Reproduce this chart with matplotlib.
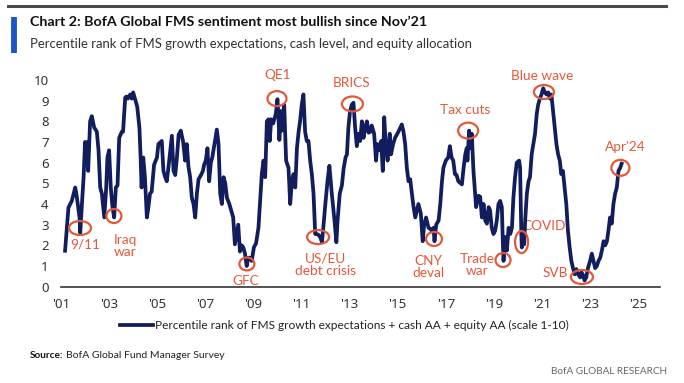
import matplotlib
matplotlib.use("Agg")
import matplotlib.pyplot as plt
from matplotlib.patches import Ellipse
from matplotlib.lines import Line2D

NARROW = "Lato"
REG = "Noto Sans"

# ---------------- data (fractional year, score 0-10) ----------------
years = [
    2001.17, 2001.31, 2001.45, 2001.59, 2001.64, 2001.77, 2001.80, 2001.87, 2001.94, 2002.00,
    2002.03, 2002.10, 2002.13, 2002.21, 2002.28, 2002.38, 2002.49, 2002.56, 2002.63, 2002.70,
    2002.80, 2002.88, 2002.93, 2003.00, 2003.07, 2003.14, 2003.21, 2003.28, 2003.35, 2003.42,
    2003.53, 2003.58, 2003.67, 2003.72, 2003.78, 2003.88, 2003.94, 2004.00, 2004.10, 2004.17,
    2004.26, 2004.31, 2004.35, 2004.42, 2004.49, 2004.57, 2004.63, 2004.70, 2004.77, 2004.87,
    2004.99, 2005.05, 2005.19, 2005.26, 2005.33, 2005.40, 2005.49, 2005.61, 2005.68, 2005.75,
    2005.82, 2005.89, 2005.98, 2006.08, 2006.16, 2006.23, 2006.30, 2006.37, 2006.44, 2006.51,
    2006.58, 2006.65, 2006.72, 2006.82, 2006.90, 2006.95, 2007.02, 2007.09, 2007.16, 2007.23,
    2007.29, 2007.38, 2007.48, 2007.55, 2007.62, 2007.69, 2007.76, 2007.83, 2007.90, 2008.00,
    2008.16, 2008.23, 2008.37, 2008.44, 2008.51, 2008.58, 2008.65, 2008.72, 2008.79, 2008.85,
    2008.93, 2009.02, 2009.11, 2009.21, 2009.35, 2009.42, 2009.49, 2009.56, 2009.63, 2009.68,
    2009.74, 2009.82, 2009.87, 2009.93, 2010.00, 2010.04, 2010.08, 2010.14, 2010.18, 2010.28,
    2010.36, 2010.46, 2010.53, 2010.60, 2010.67, 2010.74, 2010.81, 2010.88, 2010.94, 2011.01,
    2011.08, 2011.15, 2011.22, 2011.29, 2011.36, 2011.43, 2011.50, 2011.57, 2011.64, 2011.71,
    2011.78, 2011.85, 2011.91, 2011.98, 2012.08, 2012.16, 2012.26, 2012.36, 2012.45, 2012.50,
    2012.59, 2012.68, 2012.75, 2012.83, 2012.89, 2012.95, 2013.02, 2013.09, 2013.16, 2013.23,
    2013.30, 2013.37, 2013.44, 2013.51, 2013.58, 2013.65, 2013.72, 2013.79, 2013.86, 2013.92,
    2014.02, 2014.10, 2014.16, 2014.23, 2014.31, 2014.38, 2014.44, 2014.51, 2014.58, 2014.67,
    2014.72, 2014.81, 2014.89, 2015.03, 2015.17, 2015.24, 2015.31, 2015.38, 2015.45, 2015.52,
    2015.59, 2015.66, 2015.73, 2015.86, 2015.96, 2016.04, 2016.10, 2016.18, 2016.28, 2016.35,
    2016.42, 2016.49, 2016.53, 2016.60, 2016.70, 2016.77, 2016.84, 2016.90, 2017.00, 2017.10,
    2017.17, 2017.24, 2017.31, 2017.38, 2017.45, 2017.52, 2017.67, 2017.74, 2017.81, 2017.87,
    2017.90, 2017.97, 2018.03, 2018.08, 2018.15, 2018.22, 2018.26, 2018.36, 2018.43, 2018.50,
    2018.57, 2018.64, 2018.71, 2018.78, 2018.84, 2018.91, 2018.98, 2019.05, 2019.12, 2019.19,
    2019.26, 2019.33, 2019.37, 2019.40, 2019.47, 2019.54, 2019.61, 2019.68, 2019.75, 2019.81,
    2019.88, 2019.95, 2020.05, 2020.09, 2020.14, 2020.16, 2020.20, 2020.26, 2020.30, 2020.37,
    2020.44, 2020.50, 2020.57, 2020.64, 2020.71, 2020.78, 2020.84, 2020.91, 2020.98, 2021.05,
    2021.12, 2021.19, 2021.26, 2021.33, 2021.39, 2021.46, 2021.53, 2021.60, 2021.67, 2021.74,
    2021.80, 2021.87, 2021.94, 2022.01, 2022.08, 2022.15, 2022.22, 2022.29, 2022.36, 2022.43,
    2022.50, 2022.59, 2022.64, 2022.71, 2022.77, 2022.84, 2022.91, 2023.00, 2023.07, 2023.14,
    2023.21, 2023.28, 2023.35, 2023.42, 2023.49, 2023.56, 2023.63, 2023.70, 2023.76, 2023.83,
    2023.90, 2023.97, 2024.04, 2024.11, 2024.18, 2024.25, 2024.31,
]
scores = [
    1.74, 3.83, 4.15, 4.80, 4.50, 3.35, 2.60, 4.00, 5.30, 7.00,
    6.00, 7.00, 5.60, 8.00, 8.25, 7.70, 7.50, 6.60, 4.80, 4.50,
    3.35, 4.80, 6.25, 6.60, 4.80, 3.85, 3.35, 4.80, 4.90, 7.20,
    7.50, 7.50, 9.15, 9.20, 9.10, 9.30, 9.10, 9.40, 9.00, 8.70,
    7.70, 6.25, 4.80, 6.25, 5.30, 3.35, 3.80, 4.50, 4.60, 5.90,
    6.25, 6.90, 7.05, 5.60, 5.30, 5.10, 6.00, 7.30, 5.60, 5.40,
    6.25, 7.35, 7.55, 7.00, 6.10, 6.90, 5.80, 5.30, 4.30, 4.00,
    3.35, 4.50, 5.20, 5.40, 5.60, 5.90, 6.10, 6.70, 5.10, 6.00,
    6.25, 6.90, 7.60, 6.90, 4.50, 4.00, 5.30, 5.00, 4.30, 4.00,
    3.35, 2.05, 3.00, 1.70, 2.00, 1.90, 1.60, 1.00, 1.40, 1.40,
    1.25, 1.90, 2.10, 2.85, 5.45, 6.10, 5.30, 8.00, 8.10, 7.05,
    8.10, 7.90, 8.10, 8.35, 9.07, 8.25, 7.10, 8.50, 7.55, 8.80,
    6.10, 5.75, 4.00, 5.10, 5.45, 4.80, 6.70, 7.50, 8.00, 8.80,
    9.30, 7.50, 7.05, 7.05, 6.10, 5.45, 4.50, 2.55, 2.55, 2.50,
    2.40, 2.15, 2.90, 3.85, 5.10, 5.85, 4.50, 3.35, 2.15, 3.20,
    4.50, 4.90, 5.70, 6.25, 6.40, 7.70, 8.50, 8.80, 8.90, 7.70,
    6.80, 7.40, 7.05, 8.00, 7.20, 7.70, 8.00, 7.45, 7.50, 7.80,
    7.40, 6.10, 6.90, 6.60, 7.05, 5.60, 8.20, 6.70, 6.10, 7.40,
    6.40, 6.90, 7.20, 7.50, 7.85, 7.50, 6.90, 5.75, 5.10, 5.20,
    4.50, 3.85, 3.35, 4.00, 3.55, 2.20, 3.00, 3.35, 2.85, 2.80,
    2.70, 2.85, 2.20, 3.00, 3.20, 4.00, 5.10, 5.75, 6.10, 6.25,
    6.80, 6.25, 6.10, 5.45, 5.40, 5.10, 4.95, 5.75, 6.40, 6.70,
    6.10, 7.55, 6.70, 7.40, 5.60, 4.50, 3.85, 4.40, 4.35, 3.35,
    4.00, 3.20, 3.05, 3.85, 3.70, 2.85, 2.55, 2.70, 3.20, 4.00,
    4.15, 3.85, 2.20, 1.25, 2.40, 1.75, 2.85, 2.55, 2.85, 4.30,
    5.30, 6.00, 6.10, 5.75, 2.55, 1.90, 2.20, 2.05, 3.20, 4.50,
    5.10, 5.30, 6.40, 6.90, 7.40, 8.35, 8.80, 9.10, 9.30, 9.60,
    9.40, 9.30, 9.40, 9.10, 9.30, 8.50, 7.70, 6.90, 6.40, 6.10,
    5.45, 5.60, 4.80, 4.00, 2.70, 1.90, 1.25, 0.90, 0.60, 0.85,
    0.60, 0.45, 0.70, 0.55, 0.30, 0.45, 0.90, 1.25, 1.60, 1.25,
    0.90, 1.00, 1.25, 1.40, 1.75, 2.20, 2.00, 2.20, 2.70, 3.35,
    3.05, 4.00, 4.50, 4.80, 5.60, 5.75, 5.95,
]

x_ticks = [2001, 2003, 2005, 2007, 2009, 2011, 2013, 2015, 2017, 2019, 2021, 2023, 2025]
x_tick_labels = ["'01", "'03", "'05", "'07", "'09", "'11", "'13", "'15", "'17", "'19", "'21", "'23", "'25"]
y_ticks = [0, 1, 2, 3, 4, 5, 6, 7, 8, 9, 10]

# event annotations
event_labels = ["9/11", "Iraq\nwar", "GFC", "QE1", "US/EU\ndebt crisis", "BRICS", "CNY\ndeval",
                "Tax cuts", "Trade\nwar", "COVID", "Blue wave", "SVB", "Apr'24"]
event_circle_x = [2001.79, 2003.20, 2008.73, 2009.98, 2011.69, 2013.12, 2016.51,
                  2017.93, 2019.38, 2020.15, 2021.08, 2022.66, 2024.26]
event_circle_y = [2.84, 3.42, 1.10, 9.10, 2.40, 8.84, 2.31, 7.55, 1.29, 2.16, 9.42, 0.47, 5.75]
event_text_x = [2002.00, 2003.66, 2008.70, 2010.00, 2011.98, 2013.10, 2016.26,
                2017.80, 2018.30, 2021.10, 2021.00, 2021.54, 2024.45]
event_text_y = [2.02, 1.97, 0.28, 10.24, 1.05, 9.85, 0.95, 8.55, 1.05, 2.94, 10.19, 0.66, 6.76]

TITLE = "Chart 2: BofA Global FMS sentiment most bullish since Nov\u201921"
SUBTITLE = "Percentile rank of FMS growth expectations, cash level, and equity allocation"
LEGEND = "Percentile rank of FMS growth expectations + cash AA + equity AA (scale 1-10)"

# ---------------- figure ----------------
W, H = 684, 383
fig = plt.figure(figsize=(W / 100, H / 100), dpi=100)
fig.patch.set_facecolor("white")
renderer = fig.canvas.get_renderer()


def fit_width(txt, target_px):
    """Scale a text's font size so that it spans target_px pixels."""
    w = txt.get_window_extent(renderer=renderer).width
    txt.set_fontsize(txt.get_fontsize() * target_px / w)
    return txt


NAVY = "#111d5c"
RED = "#e2583a"

ax_l, ax_r, ax_top, ax_bot = 61, 660, 80, 286.7
ax = fig.add_axes([ax_l / W, 1 - ax_bot / H, (ax_r - ax_l) / W, (ax_bot - ax_top) / H])
ax.plot(years, scores, color=NAVY, lw=2.7, solid_joinstyle="round", zorder=3)
ax.set_xlim(2001, 2001 + (ax_r - ax_l) / 24.05)
ax.set_ylim(0, 10)
ax.set_xticks(x_ticks)
ax.set_xticklabels(x_tick_labels)
ax.set_yticks(y_ticks)
for s in ["top", "right", "left"]:
    ax.spines[s].set_visible(False)
ax.spines["bottom"].set_color("#333333")
ax.spines["bottom"].set_linewidth(1.2)
ax.spines["bottom"].set_zorder(5)
ax.tick_params(axis="both", length=0, labelcolor="#333333", labelsize=9.5)
ax.tick_params(axis="y", pad=9)
ax.tick_params(axis="x", pad=8)
for lab in ax.get_xticklabels() + ax.get_yticklabels():
    lab.set_fontfamily(REG)
ax.patch.set_alpha(0)

# circles + labels
px_per_year = (ax_r - ax_l) / (ax.get_xlim()[1] - ax.get_xlim()[0])
px_per_unit = (ax_bot - ax_top) / 10.0
circle_w = [22, 15, 15, 19, 22, 21, 16, 20, 15, 13, 20, 22, 18]
circle_h = [14, 14, 13, 15, 14, 15, 14, 16, 14, 22, 14, 14, 16]
for i, lab in enumerate(event_labels):
    e = Ellipse((event_circle_x[i], event_circle_y[i]),
                width=circle_w[i] / px_per_year, height=circle_h[i] / px_per_unit,
                fill=False, edgecolor=RED, lw=1.6, zorder=4, clip_on=False)
    ax.add_patch(e)
    ax.text(event_text_x[i], event_text_y[i], lab, color=RED, fontsize=9.8,
            family=NARROW, ha="center", va="center", linespacing=1.0,
            zorder=2, clip_on=False)

# header
fig.add_artist(Line2D([8 / W, 666 / W], [1 - 6 / H, 1 - 6 / H], color="#4a4a4a", lw=2.2))
fig.add_artist(Line2D([13.5 / W, 13.5 / W], [1 - 17 / H, 1 - 53 / H], color="#1b55c8", lw=4.2,
                      solid_capstyle="butt"))
t = fig.text(30 / W, 1 - 22 / H, TITLE, family=NARROW, fontweight="bold", fontsize=11,
             color="#111111", va="center", ha="left")
fit_width(t, 395)
t = fig.text(30 / W, 1 - 44 / H, SUBTITLE, family=NARROW, fontsize=11,
             color="#333333", va="center", ha="left")
fit_width(t, 442)

# legend
fig.add_artist(Line2D([120 / W, 153 / W], [1 - 325 / H, 1 - 325 / H], color=NAVY, lw=2.7))
t = fig.text(155 / W, 1 - 325 / H, LEGEND, family=NARROW, fontsize=10, color="#222222",
             va="center", ha="left")
fit_width(t, 415)

# footer
s1 = fig.text(30 / W, 1 - 355 / H, "Source:", family=NARROW, fontweight="bold", fontsize=8.5,
              color="#111111", va="center", ha="left")
fit_width(s1, 33)
x_after = s1.get_window_extent(renderer=renderer).x1 + 2
s2 = fig.text(x_after / W, 1 - 355 / H, "BofA Global Fund Manager Survey", family=NARROW,
              fontsize=s1.get_fontsize(), color="#222222", va="center", ha="left")
fit_width(s2, 225 - x_after)
t = fig.text(667 / W, 1 - 372 / H, "BofA GLOBAL RESEARCH", family=NARROW, fontsize=8,
             color="#666666", va="center", ha="right")
fit_width(t, 117)

fig.savefig("out.png", dpi=100, facecolor="white")
